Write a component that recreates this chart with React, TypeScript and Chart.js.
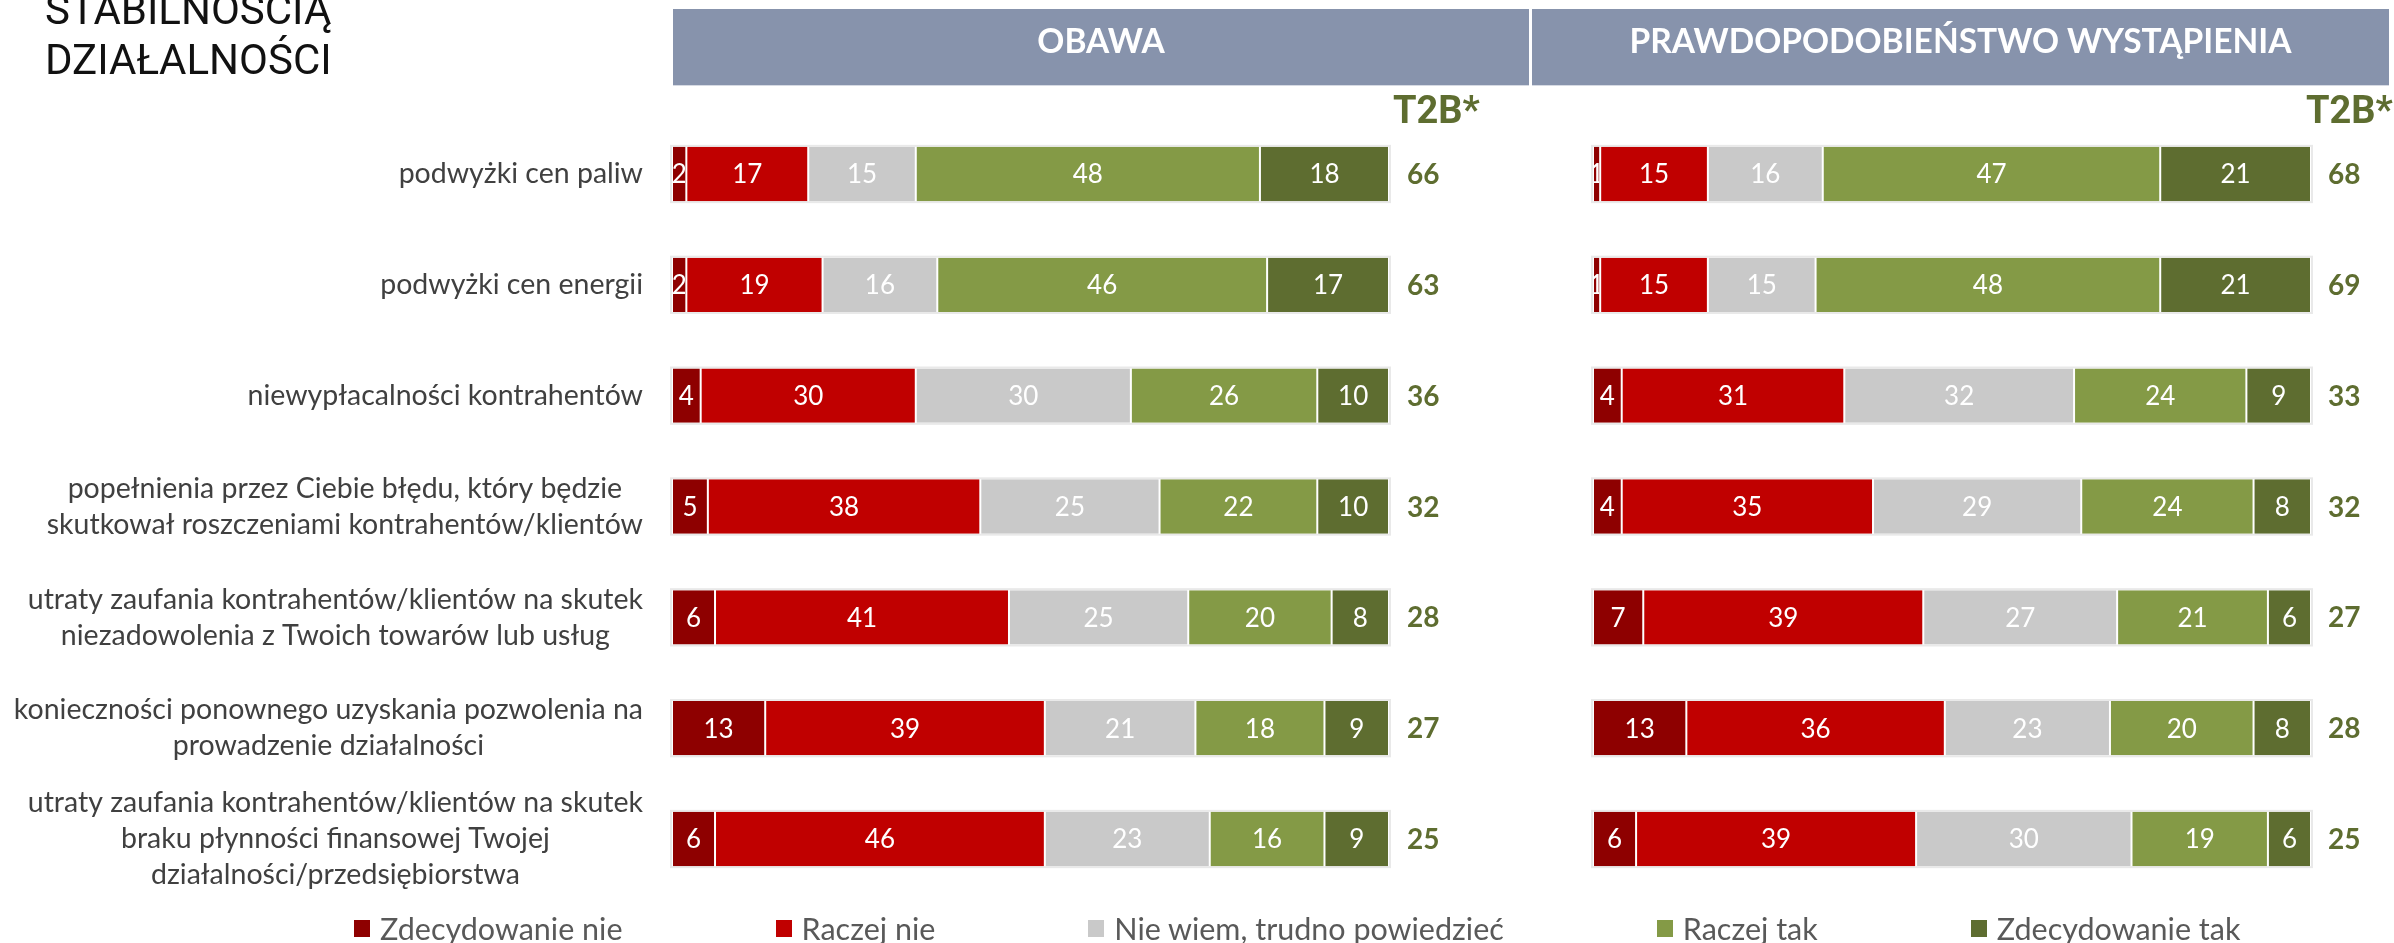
import React, { useEffect, useRef } from "react";
import { Chart, registerables } from "chart.js";

Chart.register(...registerables);

// ---------- DATA ----------
const categories: (string | string[])[] = [
  "podwyżki cen paliw",
  "podwyżki cen energii",
  "niewypłacalności kontrahentów",
  ["popełnienia przez Ciebie błędu, który będzie", "skutkował roszczeniami kontrahentów/klientów"],
  ["utraty zaufania kontrahentów/klientów na skutek", "niezadowolenia z Twoich towarów lub usług"],
  ["konieczności ponownego uzyskania pozwolenia na", "prowadzenie działalności"],
  ["utraty zaufania kontrahentów/klientów na skutek", "braku płynności finansowej Twojej", "działalności/przedsiębiorstwa"],
];

const seriesNames = [
  "Zdecydowanie nie",
  "Raczej nie",
  "Nie wiem, trudno powiedzieć",
  "Raczej tak",
  "Zdecydowanie tak",
];

const panelTitles = ["OBAWA", "PRAWDOPODOBIEŃSTWO WYSTĄPIENIA"];
const t2bHeader = "T2B*";
const pageTitle = ["STABILNOŚCIĄ", "DZIAŁALNOŚCI"];

// OBAWA
const obawaZdecNie = [2, 2, 4, 5, 6, 13, 6];
const obawaRaczejNie = [17, 19, 30, 38, 41, 39, 46];
const obawaNieWiem = [15, 16, 30, 25, 25, 21, 23];
const obawaRaczejTak = [48, 46, 26, 22, 20, 18, 16];
const obawaZdecTak = [18, 17, 10, 10, 8, 9, 9];
const obawaT2B = [66, 63, 36, 32, 28, 27, 25];

// PRAWDOPODOBIEŃSTWO WYSTĄPIENIA
const prawdZdecNie = [1, 1, 4, 4, 7, 13, 6];
const prawdRaczejNie = [15, 15, 31, 35, 39, 36, 39];
const prawdNieWiem = [16, 15, 32, 29, 27, 23, 30];
const prawdRaczejTak = [47, 48, 24, 24, 21, 20, 19];
const prawdZdecTak = [21, 21, 9, 8, 6, 8, 6];
const prawdT2B = [68, 69, 33, 32, 27, 28, 25];

// ---------- STYLE ----------
const seriesColors = ["#8E0000", "#C00000", "#C9C9C9", "#849A46", "#5E6D30"];
const HEADER_BG = "#8793AC";
const OLIVE = "#5E6D30";
const LABEL_COLOR = "#404040";

function buildDatasets(values: number[][]) {
  return values.map((data, i) => ({
    label: seriesNames[i],
    data,
    backgroundColor: seriesColors[i],
    borderColor: "#FFFFFF",
    borderWidth: { left: 1, right: 1, top: 0, bottom: 0 },
    borderSkipped: false,
    categoryPercentage: 1,
    barPercentage: 0.49,
    stack: "s",
  }));
}

type PanelCfg = {
  title: string;
  headerLeft: number;
  headerRight: number;
  t2b: number[];
  t2bHeaderX: number;
  t2bValueX: number;
  drawLabels: boolean;
  labelRight: number;
  drawPageTitle: boolean;
};

function panelPlugin(cfg: PanelCfg) {
  return {
    id: "panelDecor",
    beforeDatasetsDraw(chart: any) {
      const ctx = chart.ctx;
      const meta = chart.getDatasetMeta(0);
      const { left, right } = chart.chartArea;
      ctx.save();
      ctx.strokeStyle = "#E9E9E9";
      ctx.lineWidth = 2;
      meta.data.forEach((el: any) => {
        const p = el.getProps(["y", "height"], true);
        ctx.strokeRect(left - 1, p.y - p.height / 2 - 1, right - left + 2, p.height + 2);
      });
      ctx.restore();
    },
    afterDatasetsDraw(chart: any) {
      const ctx = chart.ctx;
      ctx.save();
      ctx.font = "26px Lato";
      ctx.fillStyle = "#FFFFFF";
      ctx.textAlign = "center";
      ctx.textBaseline = "middle";
      chart.data.datasets.forEach((ds: any, di: number) => {
        const meta = chart.getDatasetMeta(di);
        meta.data.forEach((el: any, i: number) => {
          const p = el.getProps(["x", "y", "base", "height"], true);
          const x0 = Math.min(p.x, p.base);
          const w = Math.abs(p.x - p.base);
          ctx.save();
          ctx.beginPath();
          ctx.rect(x0 + 1, p.y - p.height / 2, Math.max(w - 2, 0), p.height);
          ctx.clip();
          ctx.fillText(String(ds.data[i]), x0 + w / 2, p.y + 1);
          ctx.restore();
        });
      });
      ctx.restore();
    },
    afterDraw(chart: any) {
      const ctx = chart.ctx;
      const area = chart.chartArea;
      const yScale = chart.scales.y;
      ctx.save();

      // header box
      ctx.fillStyle = HEADER_BG;
      ctx.fillRect(cfg.headerLeft, 9, cfg.headerRight - cfg.headerLeft, 77);
      ctx.fillStyle = "#D6DAE3";
      ctx.fillRect(cfg.headerLeft, 85, cfg.headerRight - cfg.headerLeft, 1);
      ctx.fillStyle = "#FFFFFF";
      ctx.font = "bold 33.5px Lato";
      ctx.textAlign = "center";
      ctx.textBaseline = "alphabetic";
      ctx.fillText(cfg.title, (cfg.headerLeft + cfg.headerRight) / 2, 53);

      // T2B* header
      ctx.fillStyle = OLIVE;
      ctx.font = "bold 38px Roboto";
      ctx.textAlign = "left";
      ctx.fillText(t2bHeader, area.right + cfg.t2bHeaderX, 123);

      // T2B values
      ctx.font = "bold 28px Lato";
      ctx.textBaseline = "middle";
      cfg.t2b.forEach((v, i) => {
        ctx.fillText(String(v), area.right + cfg.t2bValueX, yScale.getPixelForValue(i) + 1);
      });

      // category labels
      if (cfg.drawLabels) {
        ctx.font = "28.5px Lato";
        ctx.fillStyle = LABEL_COLOR;
        ctx.textAlign = "center";
        ctx.textBaseline = "middle";
        (chart.data.labels as (string | string[])[]).forEach((lab, i) => {
          const lines = Array.isArray(lab) ? lab : [lab];
          const maxW = Math.max(...lines.map((l) => ctx.measureText(l).width));
          const cx = cfg.labelRight - maxW / 2;
          const yc = yScale.getPixelForValue(i);
          lines.forEach((l, j) => {
            ctx.fillText(l, cx, yc + (j - (lines.length - 1) / 2) * 36);
          });
        });
      }

      // page title (top-left)
      if (cfg.drawPageTitle) {
        ctx.font = "42px Roboto";
        ctx.fillStyle = "#111111";
        ctx.textAlign = "left";
        ctx.textBaseline = "alphabetic";
        ctx.fillText(pageTitle[0], 45, 24);
        ctx.fillText(pageTitle[1], 45, 74);
      }
      ctx.restore();
    },
  };
}

const CANVAS_A_W = 1531;
const CANVAS_B_W = 2394 - 1531;
const H = 943;

export default function App() {
  const refA = useRef<HTMLCanvasElement | null>(null);
  const refB = useRef<HTMLCanvasElement | null>(null);

  useEffect(() => {
    document.body.style.margin = "0";
    let charts: Chart[] = [];
    let cancelled = false;

    const make = () => {
      if (cancelled || !refA.current || !refB.current) return;
      const common = (padding: any) => ({
        indexAxis: "y" as const,
        responsive: false,
        animation: false as const,
        devicePixelRatio: 1,
        layout: { padding },
        scales: {
          x: { stacked: true, min: 0, max: 100, display: false },
          y: { stacked: true, display: false },
        },
        plugins: { legend: { display: false }, tooltip: { enabled: false } },
      });

      const chartA = new Chart(refA.current, {
        type: "bar",
        data: {
          labels: categories as any,
          datasets: buildDatasets([obawaZdecNie, obawaRaczejNie, obawaNieWiem, obawaRaczejTak, obawaZdecTak]) as any,
        },
        options: common({ left: 672, right: CANVAS_A_W - 1389, top: 118.6, bottom: H - 894.4 }) as any,
        plugins: [
          panelPlugin({
            title: panelTitles[0],
            headerLeft: 673,
            headerRight: 1529,
            t2b: obawaT2B,
            t2bHeaderX: 4,
            t2bValueX: 18,
            drawLabels: true,
            labelRight: 643,
            drawPageTitle: true,
          }),
        ],
      });

      const chartB = new Chart(refB.current, {
        type: "bar",
        data: {
          labels: categories as any,
          datasets: buildDatasets([prawdZdecNie, prawdRaczejNie, prawdNieWiem, prawdRaczejTak, prawdZdecTak]) as any,
        },
        options: common({ left: 1593 - 1531, right: CANVAS_B_W - (2311 - 1531), top: 118.6, bottom: H - 894.4 }) as any,
        plugins: [
          panelPlugin({
            title: panelTitles[1],
            headerLeft: 1,
            headerRight: 858,
            t2b: prawdT2B,
            t2bHeaderX: -5,
            t2bValueX: 17,
            drawLabels: false,
            labelRight: 0,
            drawPageTitle: false,
          }),
        ],
      });
      charts = [chartA, chartB];
    };

    const fonts = ["26px Lato", "28px Lato", "bold 28px Lato", "bold 33px Lato", "bold 38px Roboto", "42px Roboto"];
    Promise.all(fonts.map((f) => (document as any).fonts.load(f).catch(() => null)))
      .then(make)
      .catch(make);

    return () => {
      cancelled = true;
      charts.forEach((c) => c.destroy());
    };
  }, []);

  return (
    <div style={{ position: "absolute", left: 0, top: 0, width: 2394, height: H, overflow: "hidden", background: "#FFFFFF" }}>
      <canvas ref={refA} width={CANVAS_A_W} height={H} style={{ position: "absolute", left: 0, top: 0, width: CANVAS_A_W, height: H }} />
      <canvas ref={refB} width={CANVAS_B_W} height={H} style={{ position: "absolute", left: CANVAS_A_W, top: 0, width: CANVAS_B_W, height: H }} />
      <div
        style={{
          position: "absolute",
          left: 354,
          top: 909,
          display: "flex",
          alignItems: "center",
          gap: 153,
          fontFamily: "Lato",
          fontSize: 30.5,
          lineHeight: "38px",
          color: "#595959",
          whiteSpace: "nowrap",
        }}
      >
        {seriesNames.map((n, i) => (
          <div key={n} style={{ display: "flex", alignItems: "center" }}>
            <span style={{ display: "inline-block", width: 16, height: 17, background: seriesColors[i], marginRight: 10 }} />
            {n}
          </div>
        ))}
      </div>
    </div>
  );
}
